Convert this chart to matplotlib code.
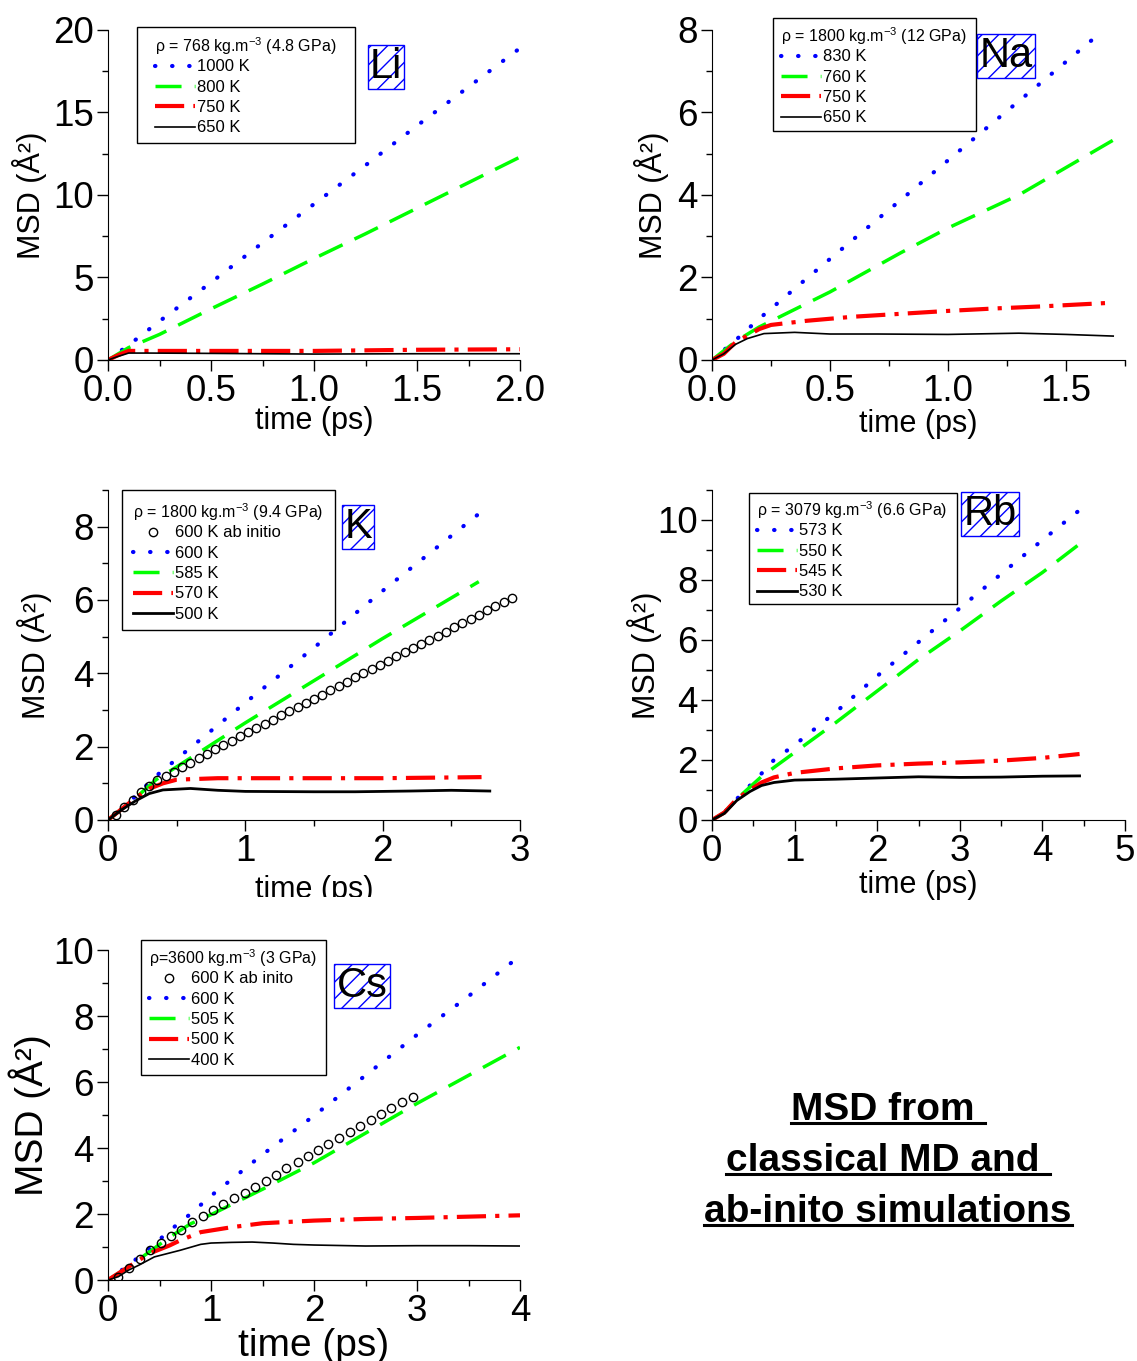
import matplotlib
matplotlib.use("Agg")
import matplotlib.pyplot as plt
from matplotlib.lines import Line2D
from matplotlib.patches import Rectangle
from matplotlib.ticker import MultipleLocator

plt.rcParams['font.family'] = ['Liberation Sans', 'DejaVu Sans']
plt.rcParams['mathtext.fontset'] = 'custom'
plt.rcParams['mathtext.rm'] = 'Liberation Sans'
plt.rcParams['mathtext.it'] = 'Liberation Sans:italic'
plt.rcParams['mathtext.bf'] = 'Liberation Sans:bold'

# ---- data (time in ps, MSD in A^2) ----
# Li
li_t = [0, 0.1, 0.25, 0.5, 0.75, 1.0, 1.25, 1.5, 1.75, 2.0]
li_1000 = [0, 0.9, 2.35, 4.7, 7.1, 9.45, 11.8, 14.2, 16.55, 18.9]
li_800 = [0, 0.75, 1.55, 3.1, 4.6, 6.15, 7.65, 9.2, 10.75, 12.3]
li_t_low = [0, 0.05, 0.1, 0.2, 0.5, 1.0, 1.5, 2.0]
li_750 = [0, 0.3, 0.55, 0.55, 0.55, 0.55, 0.62, 0.65]
li_650 = [0, 0.22, 0.42, 0.42, 0.4, 0.36, 0.38, 0.38]

# Na
na_t_830 = [0, 0.1, 0.2, 0.4, 0.6, 0.8, 1.0, 1.2, 1.4, 1.65]
na_830 = [0, 0.48, 1.0, 1.97, 2.93, 3.88, 4.84, 5.8, 6.75, 7.95]
na_t_760 = [0, 0.1, 0.2, 0.5, 0.8, 1.0, 1.3, 1.7]
na_760 = [0, 0.45, 0.8, 1.65, 2.6, 3.2, 4.0, 5.33]
na_t_750 = [0, 0.05, 0.1, 0.2, 0.25, 0.4, 0.6, 0.8, 1.0, 1.2, 1.4, 1.7]
na_750 = [0, 0.15, 0.43, 0.75, 0.85, 0.95, 1.05, 1.12, 1.19, 1.25, 1.3, 1.39]
na_t_650 = [0, 0.05, 0.1, 0.15, 0.22, 0.35, 0.5, 0.7, 1.0, 1.3, 1.5, 1.7]
na_650 = [0, 0.15, 0.38, 0.52, 0.64, 0.67, 0.63, 0.63, 0.62, 0.65, 0.62, 0.58]

# K
k_t = [0, 0.1, 0.2, 0.35, 0.6, 1.0, 1.5, 2.0, 2.7]
k_600 = [0, 0.3, 0.65, 1.2, 1.97, 3.2, 4.7, 6.25, 8.35]
k_t_585 = [0, 0.1, 0.2, 0.35, 0.5, 1.0, 1.5, 2.0, 2.7]
k_585 = [0, 0.3, 0.6, 1.1, 1.45, 2.65, 3.8, 4.95, 6.5]
k_t_570 = [0, 0.1, 0.2, 0.3, 0.4, 0.5, 0.8, 1.5, 2.0, 2.5, 2.72]
k_570 = [0, 0.3, 0.6, 0.85, 1.0, 1.1, 1.14, 1.14, 1.14, 1.16, 1.17]
k_t_500 = [0, 0.1, 0.2, 0.3, 0.4, 0.6, 0.8, 1.0, 1.5, 1.8, 2.2, 2.5, 2.78]
k_500 = [0, 0.28, 0.52, 0.72, 0.82, 0.86, 0.81, 0.78, 0.77, 0.77, 0.79, 0.81, 0.79]
k_ai_t = [0.06, 0.12, 0.18, 0.24, 0.30, 0.36, 0.42, 0.48, 0.54, 0.60,
          0.66, 0.72, 0.78, 0.84, 0.90, 0.96, 1.02, 1.08, 1.14, 1.20,
          1.26, 1.32, 1.38, 1.44, 1.50, 1.56, 1.62, 1.68, 1.74, 1.80,
          1.86, 1.92, 1.98, 2.04, 2.10, 2.16, 2.22, 2.28, 2.34, 2.40,
          2.46, 2.52, 2.58, 2.64, 2.70, 2.76, 2.82, 2.88, 2.94]
k_ai = [0.14, 0.36, 0.54, 0.75, 0.93, 1.08, 1.20, 1.32, 1.44, 1.56,
        1.69, 1.80, 1.93, 2.05, 2.16, 2.29, 2.40, 2.52, 2.62, 2.74,
        2.86, 2.97, 3.09, 3.20, 3.31, 3.42, 3.55, 3.66, 3.77, 3.89,
        4.00, 4.12, 4.23, 4.34, 4.46, 4.57, 4.68, 4.79, 4.91, 5.02,
        5.14, 5.25, 5.37, 5.48, 5.60, 5.72, 5.84, 5.95, 6.06]

# Rb
rb_t = [0, 0.15, 0.3, 0.46, 0.6, 0.75, 1.0, 1.5, 2.0, 2.5, 3.0, 3.5, 4.0, 4.45]
rb_573 = [0, 0.25, 0.7, 1.15, 1.55, 2.0, 2.5, 3.6, 4.8, 5.93, 7.06, 8.2, 9.33, 10.33]
rb_550 = [0, 0.25, 0.7, 1.1, 1.45, 1.75, 2.25, 3.25, 4.3, 5.35, 6.3, 7.3, 8.25, 9.2]
rb_545 = [0, 0.25, 0.7, 1.0, 1.25, 1.42, 1.57, 1.72, 1.82, 1.88, 1.92, 1.98, 2.07, 2.2]
rb_530 = [0, 0.22, 0.65, 0.95, 1.15, 1.25, 1.33, 1.36, 1.4, 1.44, 1.42, 1.43, 1.46, 1.47]

# Cs
cs_t = [0, 0.2, 0.4, 0.6, 0.8, 1.0, 1.5, 2.0, 2.5, 3.0, 3.5, 4.0]
cs_600 = [0, 0.45, 0.95, 1.5, 2.0, 2.55, 3.8, 4.98, 6.2, 7.43, 8.6, 9.82]
cs_505 = [0, 0.4, 0.85, 1.3, 1.7, 1.98, 2.75, 3.55, 4.45, 5.35, 6.2, 7.05]
cs_t_500 = [0, 0.2, 0.4, 0.6, 0.7, 0.9, 1.2, 1.5, 2.0, 2.5, 3.0, 3.5, 4.0]
cs_500 = [0, 0.4, 0.8, 1.05, 1.2, 1.45, 1.6, 1.72, 1.8, 1.85, 1.88, 1.92, 1.96]
cs_t_400 = [0, 0.1, 0.2, 0.3, 0.45, 0.7, 0.9, 1.0, 1.2, 1.4, 1.6, 1.8, 2.0, 2.5, 3.0, 3.5, 4.0]
cs_400 = [0, 0.1, 0.3, 0.45, 0.7, 0.9, 1.08, 1.12, 1.14, 1.15, 1.12, 1.08, 1.06, 1.03, 1.04, 1.04, 1.03]
cs_ai_t = [0.10, 0.20, 0.31, 0.41, 0.51, 0.61, 0.71, 0.82, 0.92, 1.02,
           1.12, 1.22, 1.33, 1.43, 1.53, 1.63, 1.73, 1.84, 1.94, 2.04,
           2.14, 2.24, 2.35, 2.45, 2.55, 2.65, 2.75, 2.85, 2.96]
cs_ai = [0.10, 0.36, 0.65, 0.90, 1.13, 1.33, 1.51, 1.75, 1.95, 2.12,
         2.29, 2.47, 2.65, 2.83, 3.00, 3.18, 3.38, 3.57, 3.75, 3.95,
         4.13, 4.30, 4.49, 4.66, 4.84, 5.03, 5.20, 5.38, 5.54]

summary_lines = ["MSD from ", "classical MD and ", "ab-inito simulations"]

# ---- styles ----
st_blue = dict(color='#0000ff', lw=3, ls=(0, (0.1, 4.0)), dash_capstyle='round')
st_green = dict(color='#00ff00', lw=2.5, ls=(0, (7.5, 3.8)))
st_red = dict(color='#ff0000', lw=3, ls=(0, (7, 2.2, 1, 2.2)))
st_circ = dict(ls='none', marker='o', ms=6, mfc='none', mec='black', mew=1)

W, H = 1137, 1361
fig = plt.figure(figsize=(W / 100, H / 100), dpi=100)


def make_axes(left, top, right, bottom, xlim, ylim, xmaj, xmin, ymaj, ymin,
              xfmt, ylab_x, xlab_y, labsize=22):
    ax = fig.add_axes([left / W, 1 - bottom / H, (right - left) / W, (bottom - top) / H])
    ax.spines['top'].set_visible(False)
    ax.spines['right'].set_visible(False)
    ax.set_xlim(*xlim)
    ax.set_ylim(*ylim)
    ax.xaxis.set_major_locator(MultipleLocator(xmaj))
    ax.xaxis.set_minor_locator(MultipleLocator(xmin))
    ax.yaxis.set_major_locator(MultipleLocator(ymaj))
    ax.yaxis.set_minor_locator(MultipleLocator(ymin))
    ax.xaxis.set_major_formatter(plt.FormatStrFormatter('%.1f' if xfmt else '%d'))
    ax.yaxis.set_major_formatter(plt.FormatStrFormatter('%d'))
    ax.tick_params(which='both', direction='out', top=False, right=False, width=1)
    ax.tick_params(which='major', length=8, labelsize=26.5, pad=2)
    ax.tick_params(which='minor', length=4)
    ax.set_xlabel('time (ps)', fontsize=labsize)
    ax.set_ylabel('MSD (Å²)', fontsize=labsize)
    ax.yaxis.set_label_coords((ylab_x - left) / (right - left), 0.5)
    ax.yaxis.label.set_verticalalignment('center')
    ax.xaxis.set_label_coords(0.5, (bottom - xlab_y) / (bottom - top))
    ax.xaxis.label.set_verticalalignment('center')
    return ax


def add_legend(ax, handles, labels, title, box, x_text, y_title):
    # frame drawn separately so the padding matches the original box
    x0, top, x1, bottom = box
    ax.add_patch(Rectangle((x0 / W, 1 - bottom / H), (x1 - x0) / W, (bottom - top) / H,
                           transform=fig.transFigure, fc='white', ec='black', lw=1,
                           zorder=4, clip_on=False))
    leg = ax.legend(handles, labels, title=title, loc='upper left',
                    bbox_to_anchor=(x_text / W, 1 - (y_title - 10) / H),
                    bbox_transform=fig.transFigure, frameon=False,
                    fontsize=12, title_fontsize=11.5, alignment='left',
                    handlelength=2.4, handletextpad=0.1, labelspacing=0.32,
                    borderaxespad=0, borderpad=0, numpoints=1)
    leg._legend_box.sep = 2
    leg.set_zorder(5)
    return leg


def add_symbol(sym, cx, cy):
    fig.text(cx / W, 1 - cy / H, sym, fontsize=30, ha='center', va='center',
             bbox=dict(boxstyle='square,pad=0.05', fc='none', ec='#0000ff',
                       hatch='//', lw=1))


# Li
ax = make_axes(108, 30, 520, 360, (0, 2.0), (0, 20), 0.5, 0.25, 5, 2.5, True, 30, 421)
l1, = ax.plot(li_t, li_1000, **st_blue)
l2, = ax.plot(li_t, li_800, **st_green)
l3, = ax.plot(li_t_low, li_750, **st_red)
l4, = ax.plot(li_t_low, li_650, color='black', lw=1.2)
add_legend(ax, [l1, l2, l3, l4], ['1000 K', '800 K', '750 K', '650 K'],
           'ρ = 768 kg.m$^{-3}$ (4.8 GPa)', (137, 27, 355, 143), 155, 45)
add_symbol('Li', 386, 67)

# Na
ax = make_axes(712, 30, 1125, 360, (0, 1.75), (0, 8), 0.5, 0.25, 2, 1, True, 652, 424)
l1, = ax.plot(na_t_830, na_830, **st_blue)
l2, = ax.plot(na_t_760, na_760, **st_green)
l3, = ax.plot(na_t_750, na_750, **st_red)
l4, = ax.plot(na_t_650, na_650, color='black', lw=1.2)
add_legend(ax, [l1, l2, l3, l4], ['830 K', '760 K', '750 K', '650 K'],
           'ρ = 1800 kg.m$^{-3}$ (12 GPa)', (773, 18, 976, 131), 781, 35)
add_symbol('Na', 1006, 56)

# K
ax = make_axes(108, 490, 520, 820, (0, 3), (0, 9), 1, 0.5, 2, 1, False, 35, 890)
l1, = ax.plot(k_t, k_600, **st_blue)
l2, = ax.plot(k_t_585, k_585, **st_green)
l3, = ax.plot(k_t_570, k_570, **st_red)
l4, = ax.plot(k_t_500, k_500, color='black', lw=2)
l0, = ax.plot(k_ai_t, k_ai, **st_circ)
add_legend(ax, [l0, l1, l2, l3, l4],
           ['600 K ab initio', '600 K', '585 K', '570 K', '500 K'],
           'ρ = 1800 kg.m$^{-3}$ (9.4 GPa)', (122, 490, 335, 630), 133, 511)
add_symbol('K', 358, 527)

# Rb
ax = make_axes(712, 490, 1125, 820, (0, 5), (0, 11), 1, 0.5, 2, 1, False, 645, 885)
l1, = ax.plot(rb_t, rb_573, **st_blue)
l2, = ax.plot(rb_t, rb_550, **st_green)
l3, = ax.plot(rb_t, rb_545, **st_red)
l4, = ax.plot(rb_t, rb_530, color='black', lw=2)
add_legend(ax, [l1, l2, l3, l4], ['573 K', '550 K', '545 K', '530 K'],
           'ρ = 3079 kg.m$^{-3}$ (6.6 GPa)', (749, 493, 957, 604), 757, 509)
add_symbol('Rb', 990, 514)

# Cs
ax = make_axes(108, 950, 520, 1280, (0, 4), (0, 10), 1, 0.5, 2, 1, False, 30, 1346, labsize=28)
l1, = ax.plot(cs_t, cs_600, **st_blue)
l2, = ax.plot(cs_t, cs_505, **st_green)
l3, = ax.plot(cs_t_500, cs_500, **st_red)
l4, = ax.plot(cs_t_400, cs_400, color='black', lw=1.2)
l0, = ax.plot(cs_ai_t, cs_ai, **st_circ)
add_legend(ax, [l0, l1, l2, l3, l4],
           ['600 K ab inito', '600 K', '505 K', '500 K', '400 K'],
           'ρ=3600 kg.m$^{-3}$ (3 GPa)', (141, 940, 326, 1075), 149, 957)
add_symbol('Cs', 362, 986)

# the K panel's x label is cut off in the original
fig.add_artist(Rectangle((150 / W, 1 - 915 / H), 300 / W, 18 / H,
                         transform=fig.transFigure, fc='white', ec='none', zorder=20))

# summary text, bold and underlined
texts = []
for i, s in enumerate(summary_lines):
    t = fig.text(888 / W, 1 - (1110 + 51 * i) / H, s, fontsize=28, fontweight='bold',
                 ha='center', va='center')
    texts.append(t)
fig.canvas.draw()
r = fig.canvas.get_renderer()
for t in texts:
    bb = t.get_window_extent(r)
    y = (bb.y0 + 5) / H
    fig.add_artist(Line2D([bb.x0 / W, bb.x1 / W], [y, y], color='black', lw=2.2,
                          transform=fig.transFigure))

fig.savefig('out.png', dpi=100)
